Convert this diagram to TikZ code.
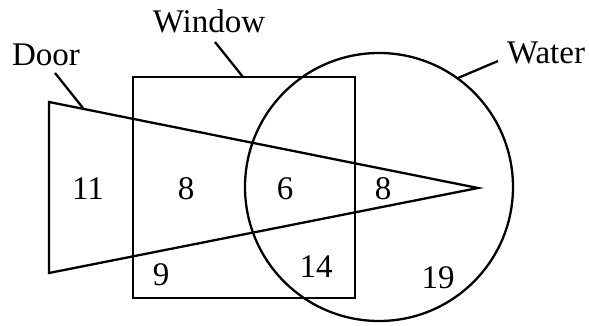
\documentclass[tikz,border=0pt]{standalone}
\usepackage{fontspec}
\setmainfont{Liberation Serif}
\begin{document}
\begin{tikzpicture}[x=1pt,y=-1pt,
  shape line/.style={line width=2.3pt,line join=miter},
  lead/.style={line width=2.3pt},
  num/.style={font=\rmfamily\fontsize{33}{40}\selectfont,inner sep=0pt},
  lbl/.style={font=\rmfamily\fontsize{33}{40}\selectfont,inner sep=0pt}]
\useasboundingbox (0,0) rectangle (589,326);
% shapes
\draw[shape line] (133,77) rectangle (355,298);
\draw[shape line] (379,187) circle[radius=134];
\draw[shape line] (49,102) -- (478,188) -- (49,273) -- cycle;
% labels
\node[lbl] (door) at (46,55) {Door};
\node[lbl] (window) at (209,21) {Window};
\node[lbl] (water) at (546,53) {Water};
\coordinate (doorend) at (83,108);
\coordinate (windowend) at (243,77);
\coordinate (waterend) at (458,78);
\coordinate (doorstart) at (55,73);
\coordinate (windowstart) at (215,42);
\coordinate (waterstart) at (498,61);
\draw[lead] (doorstart) -- (doorend);
\draw[lead] (windowstart) -- (windowend);
\draw[lead] (waterstart) -- (waterend);
% numbers
\node[num] (n11) at (88,189) {11};
\node[num] (n8a) at (186,189) {8};
\node[num] (n6) at (285,189) {6};
\node[num] (n8b) at (383,189) {8};
\node[num] (n9) at (161,275) {9};
\node[num] (n14) at (316,267) {14};
\node[num] (n19) at (438,278) {19};
\end{tikzpicture}
\end{document}
